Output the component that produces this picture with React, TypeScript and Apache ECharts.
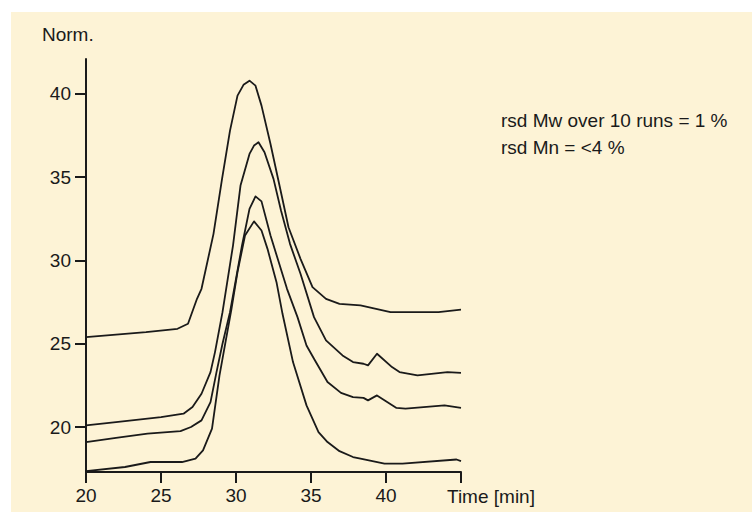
import React, { useEffect, useRef } from "react";
import * as echarts from "echarts";

// Time [min] / Norm. values, one pair of arrays per run
const timeA = [20, 22, 24, 26.1, 26.8, 27.4, 27.7, 28.5, 29.07, 29.6, 30.1, 30.5, 30.9, 31.3, 31.7, 32.3, 32.9, 33.5, 34.3, 35.1, 36, 36.9, 38.3, 40.3, 43.5, 45];
const normA = [25.4, 25.55, 25.7, 25.9, 26.2, 27.7, 28.3, 31.6, 34.9, 37.8, 39.9, 40.55, 40.8, 40.5, 39.3, 37.0, 34.5, 32.0, 30.1, 28.4, 27.7, 27.4, 27.3, 26.9, 26.9, 27.05];

const timeB = [20, 22, 25, 26.5, 27.1, 27.7, 28.3, 28.6, 29.1, 29.8, 30.3, 30.9, 31.2, 31.5, 31.9, 32.5, 33.0, 33.6, 34.3, 35.2, 36, 37.1, 37.8, 38.5, 38.8, 39.4, 40.4, 40.9, 42.1, 44.1, 45];
const normB = [20.1, 20.3, 20.6, 20.8, 21.2, 22.0, 23.3, 24.5, 26.9, 30.9, 34.5, 36.4, 36.9, 37.1, 36.5, 34.9, 33.0, 31.0, 29.2, 26.6, 25.2, 24.3, 23.9, 23.8, 23.7, 24.4, 23.6, 23.3, 23.1, 23.3, 23.25];

const timeC = [20, 22, 24.1, 26.3, 27, 27.7, 28.3, 28.7, 29.1, 29.6, 30.4, 30.9, 31.3, 31.7, 32.3, 33.4, 34.1, 34.7, 35.2, 36.1, 37, 37.8, 38.5, 38.8, 39.4, 40.7, 41.3, 43.9, 45];
const normC = [19.1, 19.35, 19.6, 19.75, 20.0, 20.4, 21.5, 23.3, 25.0, 26.9, 30.9, 33.1, 33.85, 33.55, 31.5, 28.3, 26.6, 24.9, 24.1, 22.7, 22.05, 21.8, 21.75, 21.6, 21.9, 21.15, 21.1, 21.3, 21.15];

const timeD = [20, 22.6, 24.3, 26.4, 27.3, 27.8, 28.4, 28.9, 29.7, 30.1, 30.6, 31.2, 31.7, 32.1, 32.7, 33.1, 33.8, 34.7, 35.5, 36.1, 36.9, 37.8, 38.3, 39.9, 41.1, 44.7, 45];
const normD = [17.35, 17.6, 17.9, 17.9, 18.1, 18.6, 19.9, 23.1, 27.1, 29.3, 31.5, 32.35, 31.8, 30.7, 28.7, 26.8, 23.9, 21.3, 19.7, 19.1, 18.55, 18.2, 18.1, 17.8, 17.8, 18.05, 17.95];

const xTicks = [20, 25, 30, 35, 40, 45];
const xLabels = [20, 25, 30, 35, 40];
const yTicks = [20, 25, 30, 35, 40];

const annotation1 = "rsd Mw over 10 runs = 1 %";
const annotation2 = "rsd Mn = <4 %";
const yName = "Norm.";
const xName = "Time [min]";

const zip = (xs: number[], ys: number[]) => xs.map((x, i) => [x, ys[i]]);

const FONT = "'Liberation Sans', Arial, sans-serif";
const INK = "#1a1a1a";

export default function App() {
  const ref = useRef<HTMLDivElement>(null);
  useEffect(() => {
    if (!ref.current) return;
    const chart = echarts.init(ref.current, undefined, { renderer: "svg" });
    const lineSeries = (data: number[][]) => ({
      type: "line",
      data,
      showSymbol: false,
      symbol: "none",
      smooth: false,
      lineStyle: { color: INK, width: 1.8, join: "round" },
      silent: true,
    });
    chart.setOption({
      animation: false,
      backgroundColor: "#ffffff",
      textStyle: { fontFamily: FONT },
      graphic: [
        {
          type: "rect",
          z: -10,
          shape: { x: 11, y: 12, width: 741, height: 500 },
          style: { fill: "#fdf3d6" },
          silent: true,
        },
        {
          type: "text",
          x: 42,
          y: 34,
          style: { text: yName, fill: INK, font: `19px ${FONT}`, verticalAlign: "middle", align: "left" },
        },
        {
          type: "text",
          x: 501,
          y: 120,
          style: { text: annotation1, fill: INK, font: `19px ${FONT}`, verticalAlign: "middle", align: "left" },
        },
        {
          type: "text",
          x: 501,
          y: 147,
          style: { text: annotation2, fill: INK, font: `19px ${FONT}`, verticalAlign: "middle", align: "left" },
        },
        {
          type: "text",
          x: 447,
          y: 496,
          style: { text: xName, fill: INK, font: `19px ${FONT}`, verticalAlign: "middle", align: "left" },
        },
      ],
      grid: { left: 86, top: 59, width: 375, height: 413, containLabel: false },
      xAxis: {
        type: "value",
        min: 20,
        max: 45,
        interval: 5,
        axisLine: { show: true, lineStyle: { color: INK, width: 2 } },
        axisTick: { show: true, length: 11, lineStyle: { color: INK, width: 2 }, customValues: xTicks },
        axisLabel: { color: INK, fontSize: 19, fontFamily: FONT, margin: 14, customValues: xLabels },
        splitLine: { show: false },
      },
      yAxis: {
        type: "value",
        min: 17.3,
        max: 42.1,
        axisLine: { show: true, lineStyle: { color: INK, width: 2 } },
        axisTick: { show: true, length: 11, lineStyle: { color: INK, width: 2 }, customValues: yTicks },
        axisLabel: { color: INK, fontSize: 19, fontFamily: FONT, margin: 15, customValues: yTicks },
        splitLine: { show: false },
      },
      series: [
        lineSeries(zip(timeA, normA)),
        lineSeries(zip(timeB, normB)),
        lineSeries(zip(timeC, normC)),
        lineSeries(zip(timeD, normD)),
      ],
    });
    return () => chart.dispose();
  }, []);
  return (
    <div
      ref={ref}
      style={{ position: "absolute", left: 0, top: 0, width: 752, height: 512 }}
    />
  );
}
